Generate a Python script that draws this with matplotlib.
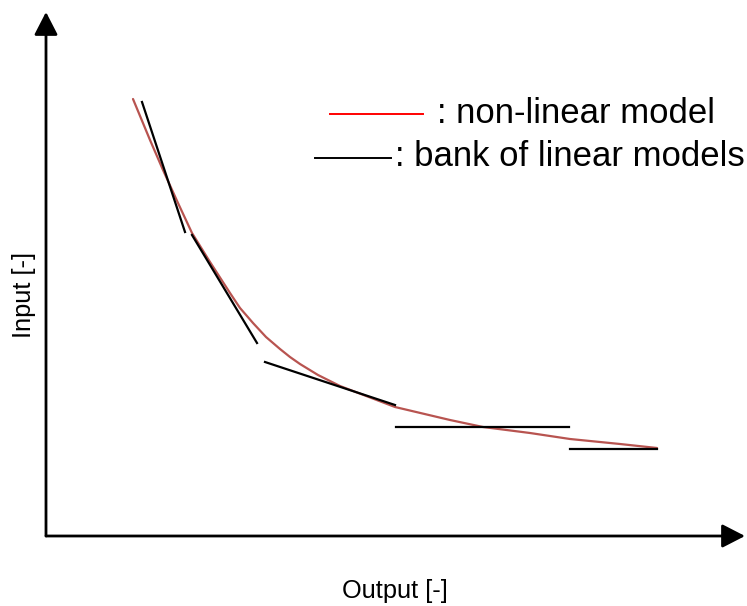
import matplotlib
matplotlib.use('Agg')
import matplotlib.pyplot as plt

plt.rcParams['font.family'] = ['Liberation Sans', 'DejaVu Sans']

# origin of the drawing (axis corner) in picture pixels
x0, y0 = 46, 536

# non-linear model curve (pixels)
curve_px_x = [133, 150, 163, 178, 192, 210, 230, 240, 253, 266, 280, 290, 300, 318, 340, 395, 450, 483, 530, 570, 620, 657]
curve_px_y = [99, 140, 170, 203, 233, 262, 293, 308, 323, 337, 349, 357, 364, 375, 386, 407, 420, 427, 433, 439, 444, 448]

# bank of linear models: (x1, y1, x2, y2) in pixels
segments_px = [
    (142, 102, 185, 232),
    (192, 235, 257, 343),
    (265, 362, 395, 405),
    (396, 427, 569, 427),
    (570, 449, 657, 449),
]

curve_x = [px - x0 for px in curve_px_x]
curve_y = [y0 - py for py in curve_px_y]

fig = plt.figure(figsize=(7.47, 6.06), dpi=100)
ax = fig.add_axes([0, 0, 1, 1])
ax.set_xlim(-x0, 747 - x0)
ax.set_ylim(y0 - 606, y0)
ax.axis('off')

# axes with arrow heads
arrow = dict(arrowstyle="-|>,head_length=0.7,head_width=0.36", mutation_scale=20,
             lw=2, color="black", shrinkA=0, shrinkB=0)
ax.annotate("", xy=(0, y0 - 12), xytext=(0, 0), arrowprops=arrow)
ax.annotate("", xy=(745 - x0, 0), xytext=(0, 0), arrowprops=arrow)

ax.plot(curve_x, curve_y, color="#b85450", lw=1.6, solid_capstyle='round', solid_joinstyle='round')
for sx1, sy1, sx2, sy2 in segments_px:
    ax.plot([sx1 - x0, sx2 - x0], [y0 - sy1, y0 - sy2], color="black", lw=1.6)

# legend drawn by hand
ax.plot([330 - x0, 423 - x0], [y0 - 114, y0 - 114], color="#ff0000", lw=1.4)
ax.text(437 - x0, y0 - 123, ": non-linear model", fontsize=25, va='baseline', ha='left')
ax.plot([315 - x0, 391 - x0], [y0 - 158, y0 - 158], color="black", lw=1.4)
ax.text(395 - x0, y0 - 166, ": bank of linear models", fontsize=25, va='baseline', ha='left')

ax.text(395 - x0, y0 - 598, "Output [-]", fontsize=18.3, ha='center', va='baseline')
ax.text(24 - x0, y0 - 295, "Input [-]", fontsize=18.3, ha='center', va='center', rotation=90)

fig.savefig("out.png", dpi=100)
